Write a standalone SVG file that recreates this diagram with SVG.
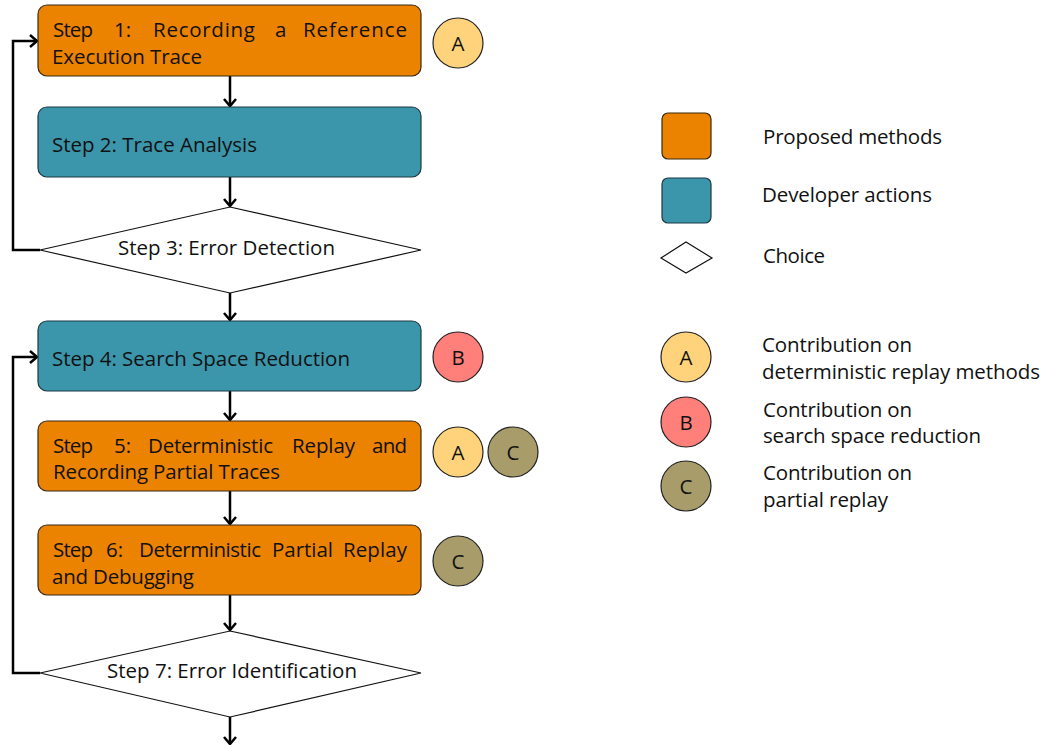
<svg xmlns="http://www.w3.org/2000/svg" width="1053" height="745" viewBox="0 0 1053 745">
<style>
text{font-family:"Open Sans","Noto Sans","Liberation Sans",sans-serif;font-size:20.5px;fill:#111}
.org{fill:#EB8200;stroke:#3a2a10;stroke-width:1.2}
.teal{fill:#3B95AB;stroke:#1d3a42;stroke-width:1.2}
.dia{fill:#fff;stroke:#111;stroke-width:1.2}
.ca{fill:#FED37C;stroke:#222;stroke-width:1.2}
.cb{fill:#FF7F7B;stroke:#222;stroke-width:1.2}
.cc{fill:#A89C6A;stroke:#222;stroke-width:1.2}
.con{fill:none;stroke:#000;stroke-width:2.5;marker-end:url(#arr)}
.mid{text-anchor:middle}
</style>
<defs>
<marker id="arr" markerUnits="userSpaceOnUse" markerWidth="14" markerHeight="16" refX="8" refY="7" orient="auto" viewBox="0 0 14 16">
<path d="M1,1 L8,7 L1,13" fill="none" stroke="#000" stroke-width="2.5"/>
</marker>
</defs>
<rect width="1053" height="745" fill="#fff"/>
<g id="connectors">
<line class="con" x1="230" y1="76" x2="230" y2="106"/>
<line class="con" x1="230" y1="177" x2="230" y2="206"/>
<polyline class="con" points="40,250 13,250 13,41 37,41"/>
<line class="con" x1="230" y1="293" x2="230" y2="320"/>
<line class="con" x1="230" y1="391" x2="230" y2="420"/>
<line class="con" x1="230" y1="491" x2="230" y2="524"/>
<line class="con" x1="230" y1="595" x2="230" y2="630"/>
<polyline class="con" points="40,673 13,673 13,357 37,357"/>
<line class="con" x1="230" y1="717" x2="230" y2="744"/>
</g>
<g id="step1">
<rect class="org" x="38" y="5" width="383" height="71" rx="9"/>
<text x="53" y="37" textLength="40">Step</text>
<text x="114" y="37">1:</text>
<text x="153" y="37" textLength="102">Recording</text>
<text x="275" y="37">a</text>
<text x="303" y="37" textLength="104">Reference</text>
<text x="52" y="64" textLength="150">Execution Trace</text>
</g>
<g id="step2">
<rect class="teal" x="38" y="107" width="383" height="70" rx="9"/>
<text x="52" y="152" textLength="205">Step 2: Trace Analysis</text>
</g>
<g id="step3">
<polygon class="dia" points="230,207 421,250 230,293 40,250"/>
<text x="118" y="255" textLength="217">Step 3: Error Detection</text>
</g>
<g id="step4">
<rect class="teal" x="38" y="321" width="383" height="70" rx="9"/>
<text x="52" y="366" textLength="298">Step 4: Search Space Reduction</text>
</g>
<g id="step5">
<rect class="org" x="38" y="421" width="383" height="70" rx="9"/>
<text x="53" y="453" textLength="40">Step</text>
<text x="114" y="453">5:</text>
<text x="148" y="453" textLength="125">Deterministic</text>
<text x="292" y="453" textLength="63">Replay</text>
<text x="372" y="453" textLength="35">and</text>
<text x="53" y="479" textLength="227">Recording Partial Traces</text>
</g>
<g id="step6">
<rect class="org" x="38" y="525" width="383" height="70" rx="9"/>
<text x="53" y="557" textLength="40">Step</text>
<text x="106" y="557">6:</text>
<text x="139" y="557" textLength="122">Deterministic</text>
<text x="272" y="557" textLength="61">Partial</text>
<text x="343" y="557" textLength="64">Replay</text>
<text x="52" y="584" textLength="142">and Debugging</text>
</g>
<g id="step7">
<polygon class="dia" points="230,631 421,673 230,717 40,673"/>
<text x="107" y="678" textLength="250">Step 7: Error Identification</text>
</g>
<g id="tag1A">
<circle class="ca" cx="458" cy="43" r="25"/>
<text class="mid" x="458" y="51">A</text>
</g>
<g id="tag4B">
<circle class="cb" cx="458" cy="357" r="25"/>
<text class="mid" x="458" y="365">B</text>
</g>
<g id="tag5A">
<circle class="ca" cx="458" cy="452" r="25"/>
<text class="mid" x="458" y="460">A</text>
</g>
<g id="tag5C">
<circle class="cc" cx="513" cy="452" r="25"/>
<text class="mid" x="513" y="460">C</text>
</g>
<g id="tag6C">
<circle class="cc" cx="458" cy="561" r="25"/>
<text class="mid" x="458" y="569">C</text>
</g>
<g id="legend">
<rect class="org" x="662" y="113" width="49" height="46" rx="6"/>
<text x="763" y="144" textLength="179">Proposed methods</text>
<rect class="teal" x="662" y="178" width="49" height="45" rx="6"/>
<text x="762" y="202" textLength="170">Developer actions</text>
<polygon class="dia" points="686,242 712,258 686,273 661,258"/>
<text x="763" y="263" textLength="62">Choice</text>
<circle class="ca" cx="686" cy="357" r="25"/>
<text class="mid" x="686" y="365">A</text>
<text x="762" y="352" textLength="150">Contribution on</text>
<text x="762" y="379" textLength="278">deterministic replay methods</text>
<circle class="cb" cx="686" cy="422" r="25"/>
<text class="mid" x="686" y="430">B</text>
<text x="763" y="417" textLength="149">Contribution on</text>
<text x="763" y="443" textLength="218">search space reduction</text>
<circle class="cc" cx="686" cy="486" r="25"/>
<text class="mid" x="686" y="494">C</text>
<text x="763" y="480" textLength="149">Contribution on</text>
<text x="763" y="507" textLength="125">partial replay</text>
</g>
</svg>
